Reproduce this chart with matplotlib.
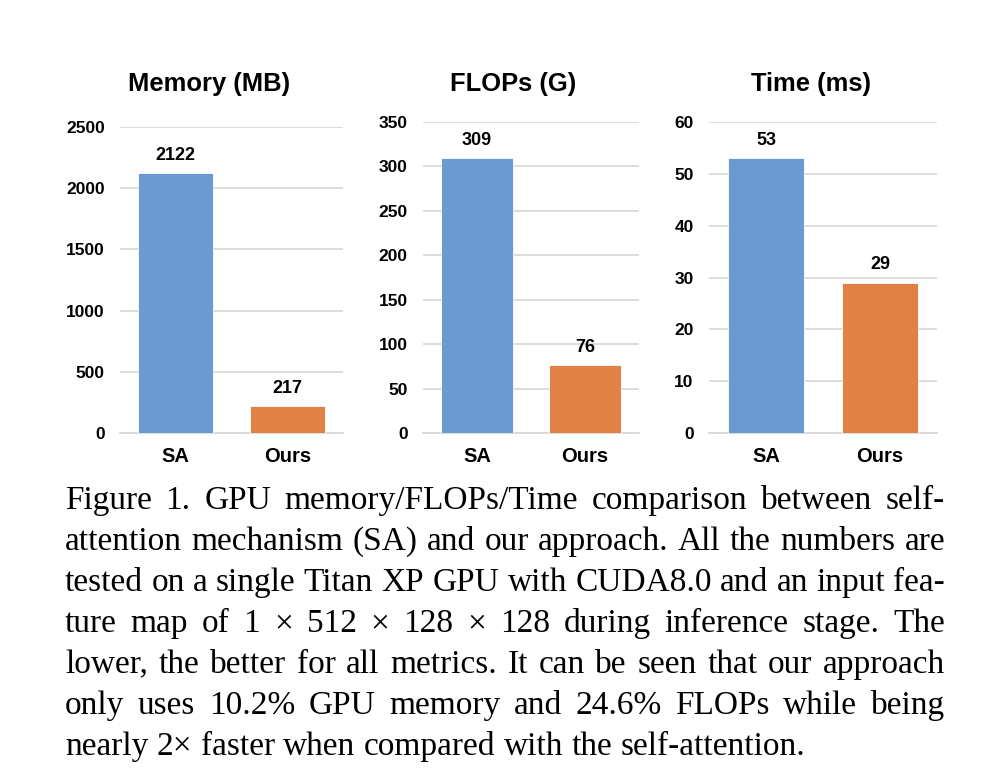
import matplotlib
matplotlib.use("Agg")
import matplotlib.pyplot as plt

# Dados dos três painéis
categorias = ["SA", "Ours"]
memoria = [2122, 217]
flops = [309, 76]
tempo = [53, 29]

titulos = ["Memory (MB)", "FLOPs (G)", "Time (ms)"]
limites = [2500, 350, 60]
passos = [500, 50, 10]

cor_sa = "#6a9bd0"
cor_ours = "#e08246"
cor_grade = "#d9d9d9"

legenda = [
    "Figure 1. GPU memory/FLOPs/Time comparison between self-",
    "attention mechanism (SA) and our approach. All the numbers are",
    "tested on a single Titan XP GPU with CUDA8.0 and an input fea-",
    "ture map of 1 \u00d7 512 \u00d7 128 \u00d7 128 during inference stage.  The",
    "lower, the better for all metrics. It can be seen that our approach",
    "only uses 10.2% GPU memory and 24.6% FLOPs while being",
    "nearly 2\u00d7 faster when compared with the self-attention.",
]

W, H = 1006, 782
fig = plt.figure(figsize=(W / 100, H / 100), dpi=100)

# posições em pixels: (esquerda, direita, topo), base comum em 433
caixas = [(120, 343, 127), (423, 639, 122), (709, 937, 122)]
centros_titulo = [209, 513, 811]
base = 433

for i, valores in enumerate([memoria, flops, tempo]):
    x0, x1, topo = caixas[i]
    ax = fig.add_axes([x0 / W, 1 - base / H, (x1 - x0) / W, (base - topo) / H])
    barras = ax.bar(range(len(categorias)), valores, width=0.67,
                    color=[cor_sa, cor_ours], edgecolor="white", linewidth=0.6,
                    zorder=3)
    ax.set_xlim(-0.5, 1.5)
    ax.set_ylim(0, limites[i])
    ax.set_yticks(range(0, limites[i] + 1, passos[i]))
    ax.set_xticks(range(len(categorias)))
    ax.set_xticklabels(categorias)
    ax.grid(axis="y", color=cor_grade, linewidth=1.3, zorder=0)
    for s in ["top", "right", "left"]:
        ax.spines[s].set_visible(False)
    ax.spines["bottom"].set_color(cor_grade)
    ax.spines["bottom"].set_linewidth(1.3)
    ax.tick_params(axis="both", length=0)
    ax.tick_params(axis="y", pad=11, labelsize=12.5)
    ax.tick_params(axis="x", pad=10, labelsize=14.5)
    for lbl in ax.get_xticklabels() + ax.get_yticklabels():
        lbl.set_fontweight("bold")
        lbl.set_fontfamily("Liberation Sans")
    for b, v in zip(barras, valores):
        ax.annotate(str(v), (b.get_x() + b.get_width() / 2, v),
                    xytext=(0, 7), textcoords="offset points",
                    ha="center", va="bottom", fontsize=13, fontweight="bold",
                    family="Liberation Sans")
    fig.text(centros_titulo[i] / W, 1 - 84 / H, titulos[i], ha="center",
             va="center", fontsize=18.4, fontweight="bold",
             family="Liberation Sans")

# Legenda justificada abaixo dos gráficos
fig.canvas.draw()
renderer = fig.canvas.get_renderer()
esq, dir_ = 65, 945
tam = 24
for n, linha in enumerate(legenda):
    y = 1 - (509 + 41 * n) / H
    palavras = linha.split()
    objs = []
    for p in palavras:
        t = fig.text(0, y, p, fontsize=tam, family="Liberation Serif",
                     va="baseline", ha="left")
        objs.append(t)
    larguras = [t.get_window_extent(renderer).width for t in objs]
    ultima = n == len(legenda) - 1
    if ultima or len(objs) == 1:
        espaco = fig.text(0, 0, "a b", fontsize=tam, family="Liberation Serif")
        e1 = espaco.get_window_extent(renderer).width
        espaco.set_text("ab")
        gap = e1 - espaco.get_window_extent(renderer).width
        espaco.remove()
    else:
        gap = (dir_ - esq - sum(larguras)) / (len(objs) - 1)
    x = esq
    for t, w in zip(objs, larguras):
        t.set_x(x / W)
        x += w + gap

fig.savefig("out.png", dpi=100)
